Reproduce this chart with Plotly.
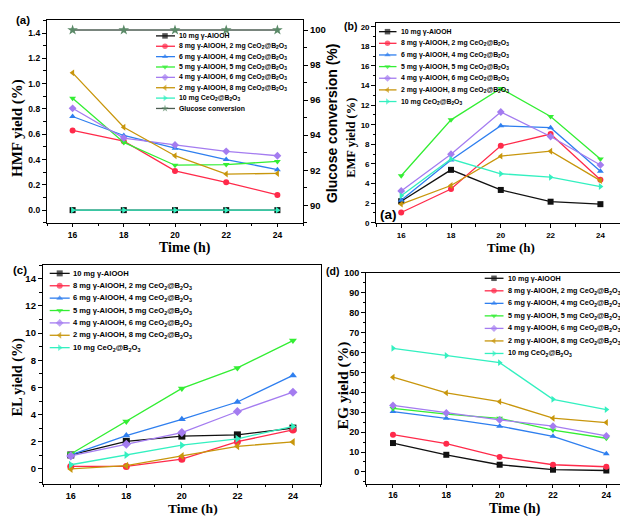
import plotly.graph_objects as go

W, H = 628, 516

time_h = [16, 18, 20, 22, 24]

series_names = [
    "10 mg γ-AlOOH",
    "8 mg γ-AlOOH, 2 mg CeO<sub>2</sub>@B<sub>2</sub>O<sub>3</sub>",
    "6 mg γ-AlOOH, 4 mg CeO<sub>2</sub>@B<sub>2</sub>O<sub>3</sub>",
    "5 mg γ-AlOOH, 5 mg CeO<sub>2</sub>@B<sub>2</sub>O<sub>3</sub>",
    "4 mg γ-AlOOH, 6 mg CeO<sub>2</sub>@B<sub>2</sub>O<sub>3</sub>",
    "2 mg γ-AlOOH, 8 mg CeO<sub>2</sub>@B<sub>2</sub>O<sub>3</sub>",
    "10 mg CeO<sub>2</sub>@B<sub>2</sub>O<sub>3</sub>",
]
glucose_name = "Glucose conversion"

# (a) HMF yield (%)
hmf_yield = [
    [0.0, 0.0, 0.0, 0.0, 0.0],
    [0.63, 0.545, 0.31, 0.22, 0.12],
    [0.74, 0.59, 0.49, 0.40, 0.32],
    [0.885, 0.535, 0.355, 0.36, 0.385],
    [0.805, 0.57, 0.515, 0.465, 0.43],
    [1.085, 0.655, 0.43, 0.285, 0.29],
    [0.0, 0.0, 0.0, 0.0, 0.0],
]
glucose_conversion = [100, 100, 100, 100, 100]

# (b) EMF yield (%)
emf_yield = [
    [2.2, 5.4, 3.35, 2.15, 1.9],
    [1.05, 3.45, 7.85, 9.05, 4.4],
    [2.3, 6.4, 9.9, 9.7, 5.25],
    [4.8, 10.5, 13.7, 10.85, 6.5],
    [3.25, 7.0, 11.3, 8.8, 5.9],
    [1.9, 3.8, 6.8, 7.3, 4.3],
    [2.75, 6.5, 5.0, 4.65, 3.7],
]

# (c) EL yield (%)
el_yield = [
    [1.03, 2.03, 2.42, 2.51, 3.01],
    [0.19, 0.19, 0.72, 2.01, 2.87],
    [1.03, 2.46, 3.66, 4.93, 6.89],
    [1.1, 3.49, 5.93, 7.44, 9.45],
    [0.96, 1.82, 2.68, 4.23, 5.65],
    [0.0, 0.24, 0.96, 1.67, 1.99],
    [0.31, 1.03, 1.75, 2.22, 3.13],
]

# (d) EG yield (%)
eg_yield = [
    [14.5, 8.6, 3.6, 1.1, 0.7],
    [18.7, 14.2, 7.5, 3.6, 2.6],
    [30.3, 26.9, 23.0, 17.9, 9.1],
    [31.9, 29.0, 26.9, 21.0, 16.9],
    [33.4, 29.6, 26.1, 23.0, 18.1],
    [47.6, 39.7, 35.3, 27.0, 24.8],
    [62.1, 58.5, 54.9, 36.5, 31.3],
]

colors = ["#111111", "#ff2a4a", "#2f7fef", "#33ee33", "#a47cf0", "#c8960c", "#33f0c0"]
symbols = ["square", "circle", "triangle-up", "triangle-down", "diamond", "triangle-left", "triangle-right"]
glu_line = "#4d5d52"
glu_marker = "#5b8a68"


def px(x):
    return x / W


def py(y):
    return 1 - y / H


SANS = "Liberation Sans, Arial, sans-serif"
SERIF = "Liberation Serif, Times New Roman, serif"

fig = go.Figure()

panels = [
    dict(data=hmf_yield, xa="x", ya="y", box=(39, 295, 7.5, 213.5), yr=[-0.1, 1.5], dt=0.2, mdt=0.1,
         fmt=".1f", fs=8.5, xfs=8.5, ms=6),
    dict(data=emf_yield, xa="x2", ya="y3", box=(368.3, 617.3, 10, 214), yr=[-0.05, 20.4], dt=2, mdt=1,
         fmt="d", fs=8, xfs=8, ms=6),
    dict(data=el_yield, xa="x3", ya="y4", box=(35, 312.7, 256, 479), yr=[-1.08, 15.05], dt=2, mdt=1,
         fmt="d", fs=9.5, xfs=9, ms=7),
    dict(data=eg_yield, xa="x4", ya="y5", box=(358.3, 625, 264.5, 479), yr=[-5.9, 100], dt=10, mdt=5,
         fmt="d", fs=9, xfs=8.5, ms=6),
]


def axis_style(fs, tl=4):
    return dict(
        showline=True, linecolor="black", linewidth=1.3, mirror=True,
        ticks="outside", ticklen=tl, tickwidth=1.2, tickcolor="black",
        showgrid=False, zeroline=False,
        tickfont=dict(family=SANS, size=fs, color="black", weight="bold"),
    )


layout_axes = {}
axis_key = {"x": "xaxis", "x2": "xaxis2", "x3": "xaxis3", "x4": "xaxis4",
            "y": "yaxis", "y3": "yaxis3", "y4": "yaxis4", "y5": "yaxis5"}

for p in panels:
    x0, x1, yt, yb = p["box"]
    for i, vals in enumerate(p["data"]):
        fig.add_trace(go.Scatter(
            x=time_h, y=vals, xaxis=p["xa"], yaxis=p["ya"], mode="lines+markers",
            line=dict(color=colors[i], width=1.3),
            marker=dict(symbol=symbols[i], size=p["ms"], color=colors[i], line=dict(width=0)),
            showlegend=False, cliponaxis=False,
        ))
    xs = axis_style(p["xfs"], 3.5)
    xs.update(domain=[px(x0), px(x1)], range=[15, 25], tick0=16, dtick=2, anchor=p["ya"],
              ticklabelstandoff=0,
              minor=dict(ticks="outside", ticklen=2.5, tickwidth=1, tickcolor="black", dtick=1, tick0=15))
    ys = axis_style(p["fs"])
    ys.update(domain=[py(yb), py(yt)], range=p["yr"], tick0=0, dtick=p["dt"], tickformat=p["fmt"],
              anchor=p["xa"],
              minor=dict(ticks="outside", ticklen=2.5, tickwidth=1, tickcolor="black", dtick=p["mdt"], tick0=0))
    layout_axes[axis_key[p["xa"]]] = xs
    layout_axes[axis_key[p["ya"]]] = ys

# glucose conversion on secondary axis of (a)
fig.add_trace(go.Scatter(
    x=time_h, y=glucose_conversion, xaxis="x", yaxis="y2", mode="lines+markers",
    line=dict(color=glu_line, width=1.3),
    marker=dict(symbol="star", size=8, color=glu_marker, line=dict(width=0)),
    showlegend=False, cliponaxis=False,
))
y2 = axis_style(9.5)
y2.update(overlaying="y", side="right", anchor="x", range=[89, 100.55], tick0=90, dtick=2,
          mirror=False,
          minor=dict(ticks="outside", ticklen=2.5, tickwidth=1, tickcolor="black", dtick=1, tick0=90))
layout_axes["yaxis2"] = y2

# legend overlay axis (pixel space)
layout_axes["xaxis9"] = dict(domain=[0, 1], range=[0, W], visible=False, fixedrange=True, anchor="y9")
layout_axes["yaxis9"] = dict(domain=[0, 1], range=[H, 0], visible=False, fixedrange=True, anchor="x9")

annotations = []

legend_specs = [
    dict(l0=148, l1=167, mx=157, tx=169, y0=23.3, dy=10.55, fs=6.9, ms=5.5, glu=True),
    dict(l0=371, l1=388.5, mx=379.5, tx=390.5, y0=19, dy=11.85, fs=6.9, ms=5.5, glu=False),
    dict(l0=41.7, l1=61.7, mx=51.7, tx=63.3, y0=265, dy=12.6, fs=7.6, ms=6, glu=False),
    dict(l0=476.7, l1=495.5, mx=486, tx=497.5, y0=270, dy=12.75, fs=7.2, ms=5.5, glu=False),
]

for spec in legend_specs:
    entries = [(series_names[i], colors[i], colors[i], symbols[i]) for i in range(7)]
    if spec["glu"]:
        entries.append((glucose_name, glu_line, glu_marker, "star"))
    for k, (name, lc, mc, sym) in enumerate(entries):
        yy = spec["y0"] + k * spec["dy"]
        fig.add_trace(go.Scatter(
            x=[spec["l0"], spec["mx"], spec["l1"]], y=[yy, yy, yy], xaxis="x9", yaxis="y9",
            mode="lines+markers", line=dict(color=lc, width=1.3),
            marker=dict(symbol=sym, size=[0, spec["ms"], 0], color=mc, line=dict(width=0)),
            showlegend=False, hoverinfo="skip", cliponaxis=False,
        ))
        annotations.append(dict(
            x=px(spec["tx"]), y=py(yy), xref="paper", yref="paper", xanchor="left", yanchor="middle",
            text=name, showarrow=False, font=dict(family=SANS, size=spec["fs"], color="black", weight="bold"),
        ))


def title(text, x, y, size, family, angle=0, yanchor="middle"):
    annotations.append(dict(
        x=px(x), y=py(y), xref="paper", yref="paper", xanchor="center", yanchor=yanchor,
        text=text, showarrow=False, textangle=angle, borderpad=0,
        font=dict(family=family, size=size, color="black", weight="bold"),
    ))


# axis titles
title("HMF yield (%)", 10, 117, 15, SERIF, -90)
title("Glucose conversion (%)", 324, 113, 14, SANS, -90)
title("Time (h)", 177, 239, 14, SERIF)
title("EMF yield (%)", 343, 127, 12.5, SERIF, -90)
title("Time (h)", 502.5, 239, 13, SERIF)
title("EL yield (%)", 10, 371, 14.3, SERIF, -90)
title("Time (h)", 185, 504.5, 13.5, SERIF)
title("EG yield (%)", 335, 379, 15.5, SERIF, -90)
title("Time (h)", 507, 504.5, 14, SERIF)

# panel labels
title("(a)", 15, 7.5, 11.5, SANS)
title("(b)", 342, 13, 10.5, SANS)
title("(c)", 12, 262, 11.5, SANS)
title("(d)", 324, 263, 10.5, SANS)
title("(a)", 380, 205, 13.5, SANS)

fig.update_layout(
    width=W, height=H, margin=dict(l=0, r=0, t=0, b=0),
    paper_bgcolor="white", plot_bgcolor="rgba(0,0,0,0)",
    showlegend=False, annotations=annotations, **layout_axes,
)

fig.write_html("out.html")
